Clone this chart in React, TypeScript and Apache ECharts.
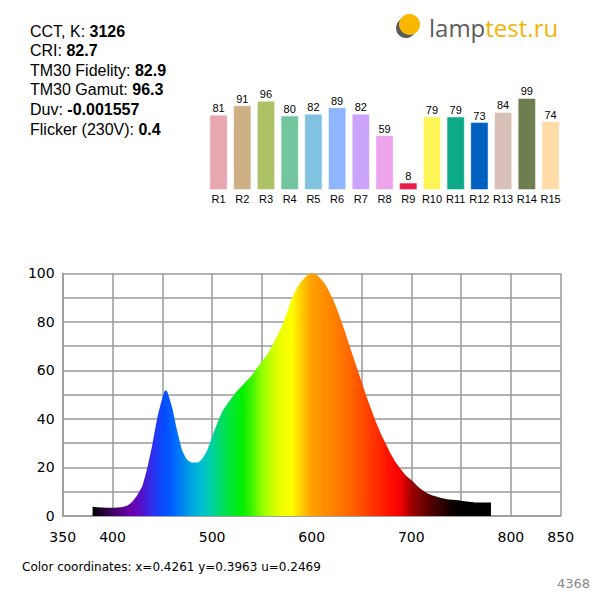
import React, { useEffect, useRef } from 'react';
import * as echarts from 'echarts';

// ---- data ----
const infoLabels = ['CCT, K: ', 'CRI: ', 'TM30 Fidelity: ', 'TM30 Gamut: ', 'Duv: ', 'Flicker (230V): '];
const infoValues = ['3126', '82.7', '82.9', '96.3', '-0.001557', '0.4'];

const criCategories = ['R1', 'R2', 'R3', 'R4', 'R5', 'R6', 'R7', 'R8', 'R9', 'R10', 'R11', 'R12', 'R13', 'R14', 'R15'];
const criValues = [81, 91, 96, 80, 82, 89, 82, 59, 8, 79, 79, 73, 84, 99, 74];
const criColors = ['#e8a6ae', '#cdb083', '#adc165', '#72c59e', '#80c2e0', '#8fb5fd', '#cba5fc', '#eea4eb', '#ec1b4b', '#fff556', '#0daa88', '#0060c0', '#d8bfb8', '#6d7e4f', '#ffdca6'];

const wavelengths = [380, 385, 390, 395, 400, 405, 410, 415, 420, 425, 430, 435, 440, 445, 450, 453, 455, 460, 465, 470, 475, 480, 485, 490, 495, 500, 505, 510, 515, 520, 525, 530, 535, 540, 545, 550, 555, 560, 565, 570, 575, 580, 585, 590, 595, 600, 605, 610, 615, 620, 625, 630, 635, 640, 645, 650, 655, 660, 665, 670, 675, 680, 685, 690, 695, 700, 705, 710, 715, 720, 725, 730, 735, 740, 745, 750, 755, 760, 765, 770, 775, 780];
const intensities = [3.8, 3.6, 3.5, 3.4, 3.4, 3.5, 3.7, 4.3, 6, 8.7, 12.5, 20, 29.5, 40.5, 48.5, 51.8, 51.2, 44.5, 35, 27, 23.2, 22, 22, 23.5, 27, 32.6, 38, 42.8, 46, 48.8, 51.5, 53.6, 55.8, 58, 61, 63.6, 66.3, 69.8, 74, 78, 83.5, 89.5, 93.8, 96.8, 99, 100, 99.4, 97.3, 94.5, 90.4, 85.6, 80, 73.9, 67.7, 61.5, 55.4, 49.2, 43.7, 38.2, 33.4, 29.3, 25.1, 21.7, 19, 16.5, 14.8, 12.8, 11, 9.6, 8.7, 8, 7.4, 7, 6.7, 6.6, 6.3, 6, 5.8, 5.6, 5.6, 5.6, 5.6];

const xTickLabels = [350, 400, 500, 600, 700, 800, 850];
const yTickLabels = [0, 20, 40, 60, 80, 100];

const coordNames = ['x', 'y', 'u'];
const coordValues = ['0.4261', '0.3963', '0.2469'];
const sampleId = '4368';

// spectrum colour ramp (wavelength -> colour)
const rampNm = [380, 390, 400, 410, 420, 430, 440, 450, 460, 470, 480, 490, 500, 510, 520, 530, 540, 550, 560, 570, 580, 590, 600, 620, 640, 660, 680, 690, 700, 720, 740, 750, 780];
const rampColors = ['#000000', '#200030', '#400060', '#5c0090', '#6a00b0', '#5212cc', '#3030ee', '#0a48ff', '#0060ff', '#0082f0', '#00a8e0', '#00c0d0', '#00d0a0', '#00dc60', '#00e830', '#00f000', '#40f400', '#90ff00', '#c8ff00', '#f0ff00', '#ffff00', '#ffcc00', '#ffa000', '#ff8400', '#ff6400', '#ff3800', '#ff0c00', '#f00000', '#a00000', '#500000', '#100000', '#000000', '#000000'];

function buildOption() {
  const minNm = wavelengths[0];
  const maxNm = wavelengths[wavelengths.length - 1];
  const stops = rampNm.map((nm, i) => ({ offset: (nm - minNm) / (maxNm - minNm), color: rampColors[i] }));

  const gridLine = { color: '#9a9a9a', width: 1.5 };

  const infoTexts = infoLabels.map((lab, i) => ({
    type: 'text',
    x: 30,
    y: 31 + i * 19.6,
    style: {
      text: lab + '{b|' + infoValues[i] + '}',
      fontSize: 16,
      fontFamily: 'Liberation Sans',
      fill: '#000',
      verticalAlign: 'middle',
      rich: {
        b: { fontWeight: 'bold', fontSize: 16, fontFamily: 'Liberation Sans', fill: '#000', color: '#000' },
      },
    },
  }));

  const coordText = 'Color coordinates: ' + coordNames.map((n, i) => n + '=' + coordValues[i]).join(' ');

  return {
    animation: false,
    backgroundColor: '#ffffff',
    grid: [
      { left: 206.7, right: 37.6, top: 97, bottom: 410 },
      { left: 62.7, right: 39.3, top: 273.3, bottom: 84 },
    ],
    xAxis: [
      {
        type: 'category',
        gridIndex: 0,
        data: criCategories,
        axisLine: { show: false },
        axisTick: { show: false },
        axisLabel: { color: '#000', fontSize: 11, fontFamily: 'Liberation Sans', margin: 3, interval: 0 },
      },
      {
        type: 'value',
        gridIndex: 1,
        min: 350,
        max: 850,
        interval: 50,
        axisLine: { show: true, lineStyle: gridLine },
        axisTick: { show: false },
        splitLine: { show: true, lineStyle: gridLine },
        axisLabel: {
          color: '#000',
          fontSize: 14,
          fontFamily: 'DejaVu Sans',
          margin: 14,
          showMinLabel: true,
          showMaxLabel: true,
          formatter: (v: number) => (xTickLabels.indexOf(v) >= 0 ? String(v) : ''),
        },
      },
    ],
    yAxis: [
      { type: 'value', gridIndex: 0, min: 0, max: 100, show: false },
      {
        type: 'value',
        gridIndex: 1,
        min: 0,
        max: 100,
        interval: 10,
        axisLine: { show: true, lineStyle: gridLine },
        axisTick: { show: false },
        splitLine: { show: true, lineStyle: gridLine },
        axisLabel: {
          color: '#000',
          fontSize: 14,
          fontFamily: 'DejaVu Sans',
          margin: 8,
          formatter: (v: number) => (yTickLabels.indexOf(v) >= 0 ? String(v) : ''),
        },
      },
    ],
    series: [
      {
        type: 'bar',
        xAxisIndex: 0,
        yAxisIndex: 0,
        barWidth: '77%',
        data: criValues.map((v, i) => ({ value: v, itemStyle: { color: criColors[i] } })),
        itemStyle: { borderColor: 'rgba(255,255,255,0.45)', borderWidth: 1 },
        label: { show: true, position: 'top', distance: 1, fontSize: 11, color: '#000', fontFamily: 'Liberation Sans' },
      },
      {
        type: 'line',
        xAxisIndex: 1,
        yAxisIndex: 1,
        data: wavelengths.map((w, i) => [w, intensities[i]]),
        showSymbol: false,
        symbol: 'none',
        smooth: 0.2,
        lineStyle: { width: 0 },
        areaStyle: { opacity: 1, color: new echarts.graphic.LinearGradient(0, 0, 1, 0, stops) },
      },
    ],
    graphic: [
      ...infoTexts,
      { type: 'circle', shape: { cx: 406, cy: 28, r: 10 }, style: { fill: '#5a5a5a' } },
      { type: 'circle', shape: { cx: 409.5, cy: 24.5, r: 10.5 }, style: { fill: '#f9b700' } },
      {
        type: 'text',
        x: 429,
        y: 27,
        style: {
          text: 'lamp{o|test.ru}',
          fontSize: 24,
          fontFamily: 'Open Sans',
          fill: '#5c5c5c',
          verticalAlign: 'middle',
          rich: { o: { fill: '#f6b300', color: '#f6b300', fontSize: 24, fontFamily: 'Open Sans' } },
        },
      },
      {
        type: 'text',
        x: 22,
        y: 567,
        style: { text: coordText, fontSize: 12, fontFamily: 'DejaVu Sans', fill: '#000', verticalAlign: 'middle' },
      },
      {
        type: 'text',
        x: 590,
        y: 583,
        style: { text: sampleId, fontSize: 13, fontFamily: 'DejaVu Sans', fill: '#888', align: 'right', verticalAlign: 'middle' },
      },
    ],
  };
}

export default function App() {
  const ref = useRef<HTMLDivElement>(null);
  useEffect(() => {
    if (!ref.current) return;
    const chart = echarts.init(ref.current, null, { renderer: 'svg' });
    chart.setOption(buildOption() as any);
    return () => chart.dispose();
  }, []);
  return (
    <div
      ref={ref}
      style={{ position: 'absolute', left: 0, top: 0, width: 600, height: 600, background: '#fff' }}
    />
  );
}
